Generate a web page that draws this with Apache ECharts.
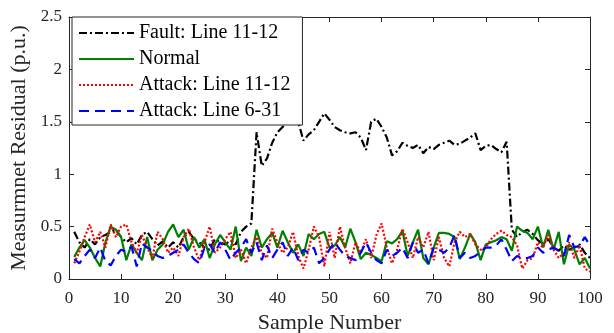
<!DOCTYPE html>
<html>
<head>
<meta charset="utf-8">
<script src="https://cdn.jsdelivr.net/npm/echarts@6/dist/echarts.min.js"></script>
<style>
  html, body { margin: 0; padding: 0; background: #fff; }
  #chart { width: 614px; height: 333px; }
</style>
</head>
<body>
<div id="chart"></div>
<script>
// sample numbers 1..100
var samples = [];
for (var i = 1; i <= 100; i++) samples.push(i);

var xTicks = [0, 10, 20, 30, 40, 50, 60, 70, 80, 90, 100];
var yTicks = [0, 0.5, 1, 1.5, 2, 2.5];

var faultLine = [
  0.45, 0.35, 0.30, 0.38, 0.33, 0.40, 0.42, 0.45, 0.47, 0.40,
  0.35, 0.39, 0.33, 0.42, 0.45, 0.38, 0.32, 0.36, 0.30, 0.35,
  0.30, 0.40, 0.45, 0.38, 0.35, 0.30, 0.28, 0.38, 0.35, 0.33,
  0.37, 0.33, 0.45, 0.50, 0.53, 1.40, 1.08, 1.15, 1.30, 1.40,
  1.45, 1.50, 1.49, 1.50, 1.32, 1.38, 1.42, 1.50, 1.58, 1.52,
  1.45, 1.42, 1.40, 1.39, 1.40, 1.35, 1.23, 1.50, 1.53, 1.45,
  1.35, 1.18, 1.22, 1.30, 1.27, 1.25, 1.28, 1.20, 1.26, 1.24,
  1.28, 1.30, 1.32, 1.28, 1.29, 1.32, 1.35, 1.39, 1.23, 1.27,
  1.28, 1.24, 1.21, 1.31, 0.47, 0.40, 0.45, 0.47, 0.43, 0.37,
  0.33, 0.38, 0.30, 0.27, 0.32, 0.28, 0.30, 0.33, 0.25, 0.20
];

var normal = [
  0.21, 0.30, 0.37, 0.30, 0.20, 0.12, 0.35, 0.50, 0.47, 0.40,
  0.18, 0.33, 0.25, 0.18, 0.40, 0.18, 0.28, 0.33, 0.45, 0.52,
  0.40, 0.47, 0.28, 0.40, 0.30, 0.38, 0.20, 0.33, 0.42, 0.35,
  0.28, 0.50, 0.17, 0.30, 0.22, 0.47, 0.30, 0.38, 0.44, 0.30,
  0.46, 0.35, 0.25, 0.33, 0.22, 0.43, 0.38, 0.43, 0.45, 0.30,
  0.32, 0.40, 0.30, 0.48, 0.35, 0.19, 0.25, 0.23, 0.20, 0.17,
  0.36, 0.34, 0.38, 0.46, 0.22, 0.35, 0.47, 0.20, 0.14, 0.30,
  0.44, 0.44, 0.43, 0.40, 0.19, 0.30, 0.43, 0.35, 0.18, 0.33,
  0.35, 0.37, 0.40, 0.38, 0.27, 0.50, 0.46, 0.44, 0.38, 0.50,
  0.30, 0.47, 0.28, 0.45, 0.14, 0.33, 0.28, 0.14, 0.20, 0.10
];

var attack1112 = [
  0.15, 0.26, 0.40, 0.52, 0.35, 0.45, 0.30, 0.52, 0.40, 0.50,
  0.52, 0.35, 0.25, 0.42, 0.30, 0.20, 0.45, 0.38, 0.25, 0.30,
  0.22, 0.40, 0.48, 0.30, 0.18, 0.35, 0.50, 0.25, 0.30, 0.38,
  0.45, 0.20, 0.28, 0.15, 0.30, 0.40, 0.25, 0.20, 0.48, 0.35,
  0.25, 0.30, 0.45, 0.22, 0.10, 0.28, 0.50, 0.40, 0.12, 0.45,
  0.20, 0.50, 0.30, 0.15, 0.35, 0.25, 0.38, 0.20, 0.42, 0.53,
  0.30, 0.15, 0.28, 0.48, 0.35, 0.20, 0.40, 0.30, 0.45, 0.18,
  0.40, 0.20, 0.12, 0.35, 0.45, 0.40, 0.43, 0.33, 0.28, 0.30,
  0.38, 0.43, 0.46, 0.42, 0.40, 0.32, 0.10, 0.18, 0.20, 0.35,
  0.30, 0.42, 0.28, 0.20, 0.25, 0.35, 0.20, 0.32, 0.10, 0.07
];

var attack631 = [
  0.19, 0.15, 0.22, 0.28, 0.20, 0.30, 0.17, 0.13, 0.22, 0.28,
  0.26, 0.31, 0.12, 0.34, 0.30, 0.27, 0.22, 0.20, 0.22, 0.25,
  0.28, 0.33, 0.25, 0.19, 0.15, 0.30, 0.33, 0.25, 0.35, 0.28,
  0.18, 0.25, 0.30, 0.38, 0.25, 0.35, 0.18, 0.32, 0.20, 0.28,
  0.35, 0.22, 0.30, 0.18, 0.28, 0.25, 0.30, 0.15, 0.20, 0.28,
  0.35, 0.28, 0.22, 0.20, 0.18, 0.25, 0.35, 0.25, 0.18, 0.15,
  0.28, 0.22, 0.25, 0.30, 0.20, 0.35, 0.25, 0.28, 0.15, 0.30,
  0.28, 0.25, 0.30, 0.42, 0.20, 0.25, 0.20, 0.22, 0.26, 0.30,
  0.30, 0.32, 0.38, 0.28, 0.17, 0.22, 0.20, 0.20, 0.22, 0.30,
  0.25, 0.28, 0.30, 0.27, 0.22, 0.42, 0.30, 0.32, 0.40, 0.32
];

var names = ['Fault: Line 11-12', 'Normal', 'Attack: Line 11-12', 'Attack: Line 6-31'];

function pairs(arr) {
  return arr.map(function (v, k) { return [samples[k], v]; });
}

var font = 'Liberation Serif';
var axisCol = '#262626';

var chart = echarts.init(document.getElementById('chart'), null, { renderer: 'canvas' });

chart.setOption({
  animation: false,
  backgroundColor: '#fff',
  textStyle: { fontFamily: font },
  grid: { left: 69, right: 24, top: 17, bottom: 54, containLabel: false, outerBoundsMode: 'none' },
  legend: {
    data: names,
    orient: 'vertical',
    left: 72,
    top: 17,
    itemWidth: 55,
    itemHeight: 14,
    itemGap: 6,
    padding: [6, 12, 4, 6],
    backgroundColor: '#fff',
    borderColor: axisCol,
    borderWidth: 1,
    itemStyle: { opacity: 0 },
    textStyle: { fontFamily: font, fontSize: 20, color: '#000' }
  },
  xAxis: [{
    type: 'value',
    min: 0, max: 100, interval: 10,
    name: 'Sample Number',
    nameLocation: 'middle',
    nameGap: 32,
    nameTextStyle: { fontFamily: font, fontSize: 22, color: axisCol },
    axisLine: { onZero: false, lineStyle: { color: axisCol, width: 1 } },
    axisTick: { inside: true, length: 5, lineStyle: { color: axisCol } },
    axisLabel: { fontFamily: font, fontSize: 17, color: axisCol, margin: 11 },
    splitLine: { show: false }
  }, {
    type: 'value',
    position: 'top',
    min: 0, max: 100, interval: 10,
    axisLine: { onZero: false, lineStyle: { color: axisCol, width: 1 } },
    axisTick: { inside: true, length: 5, lineStyle: { color: axisCol } },
    axisLabel: { show: false },
    splitLine: { show: false }
  }],
  yAxis: [{
    type: 'value',
    min: 0, max: 2.5, interval: 0.5,
    name: 'Measurmnet Residual (p.u.)',
    nameLocation: 'middle',
    nameGap: 28,
    nameTextStyle: { fontFamily: font, fontSize: 22, color: axisCol },
    axisLine: { show: true, onZero: false, lineStyle: { color: axisCol, width: 1 } },
    axisTick: { show: true, inside: true, length: 5, lineStyle: { color: axisCol } },
    axisLabel: {
      fontFamily: font, fontSize: 17, color: axisCol, margin: 7,
      formatter: function (v) { return String(v); }
    },
    splitLine: { show: false }
  }, {
    type: 'value',
    position: 'right',
    min: 0, max: 2.5, interval: 0.5,
    axisLine: { show: true, onZero: false, lineStyle: { color: axisCol, width: 1 } },
    axisTick: { show: true, inside: true, length: 5, lineStyle: { color: axisCol } },
    axisLabel: { show: false },
    splitLine: { show: false }
  }],
  series: [
    {
      name: names[0], type: 'line', symbol: 'none', data: pairs(faultLine),
      color: '#000000',
      lineStyle: { color: '#000000', width: 2.2, type: [8, 3, 2, 3] }
    },
    {
      name: names[1], type: 'line', symbol: 'none', data: pairs(normal),
      color: '#008000',
      lineStyle: { color: '#008000', width: 2.2, type: 'solid' }
    },
    {
      name: names[2], type: 'line', symbol: 'none', data: pairs(attack1112),
      color: '#ff0000',
      lineStyle: { color: '#ff0000', width: 2.2, type: [2, 2] }
    },
    {
      name: names[3], type: 'line', symbol: 'none', data: pairs(attack631),
      color: '#0000ff',
      lineStyle: { color: '#0000ff', width: 2.2, type: [10, 6] }
    }
  ]
});
</script>
</body>
</html>
